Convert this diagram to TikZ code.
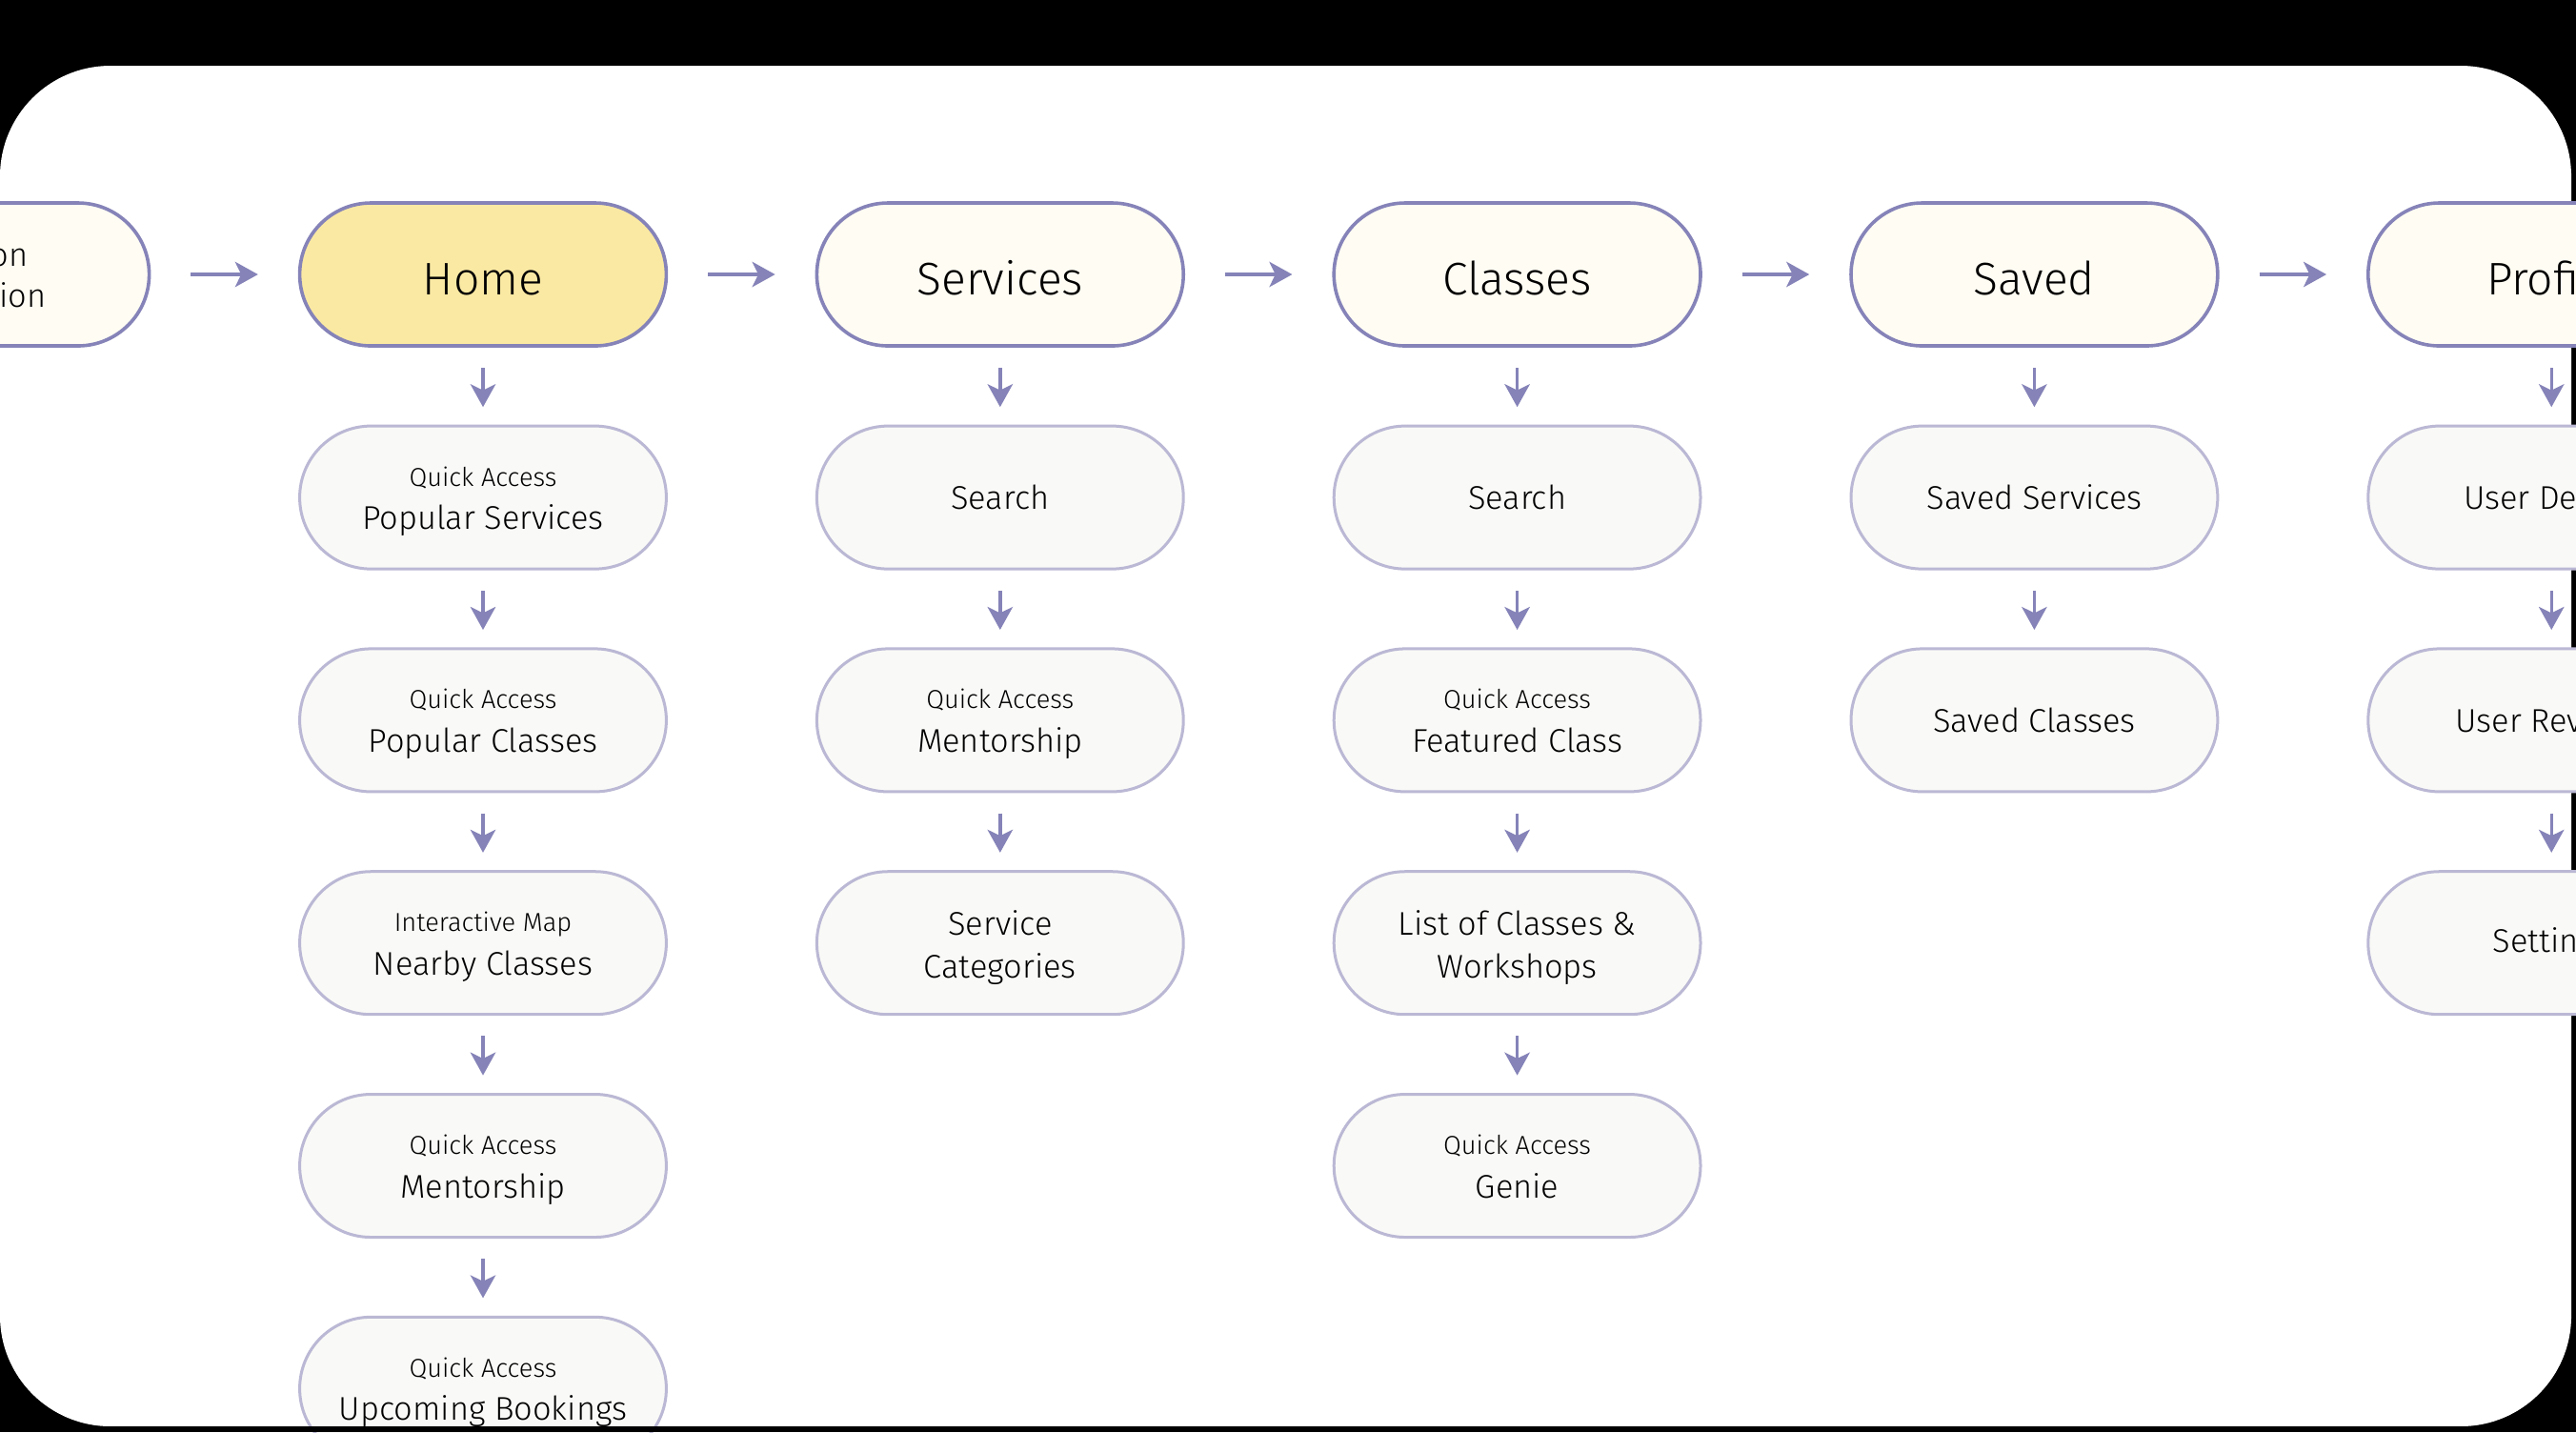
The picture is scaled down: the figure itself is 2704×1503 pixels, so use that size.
\documentclass[tikz,border=0pt]{standalone}
\usepackage{fontspec}
\setmainfont{Fira Sans Light}
\usetikzlibrary{positioning, arrows.meta}

\definecolor{flowline}{HTML}{8583B8}
\definecolor{itemline}{HTML}{BAB8D4}
\definecolor{homefill}{HTML}{FAE9A3}
\definecolor{tabfill}{HTML}{FFFCF3}
\definecolor{itemfill}{HTML}{F9F9F7}

\newcommand{\hint}[1]{{\fontsize{6.8}{8.2}\selectfont #1}}

\begin{document}
\begin{tikzpicture}
        [
            x=0.25pt, y=-0.25pt,
            pill/.style={rectangle, rounded corners=18.7pt, draw=flowline,
                         line width=0.9pt, fill=tabfill, minimum width=96.2pt,
                         minimum height=37.5pt, inner sep=0pt, align=center,
                         font=\fontsize{12}{14}\selectfont},
            page/.style={pill, text height=10.9pt, text depth=0pt},
            item/.style={pill, draw=itemline, line width=0.75pt, fill=itemfill,
                         font=\fontsize{8.6}{11.4}\selectfont},
            hinted/.style={item, text height=18.8pt, text depth=2pt},
            wrapped/.style={item, text height=20.6pt, text depth=2pt},
            flow/.style={->, >={Stealth[length=6pt, width=6.6pt, inset=1.6pt]},
                         draw=flowline, line width=0.85pt}
        ]
        \useasboundingbox (0,0) rectangle (2704,1503);
        \clip (0,0) rectangle (2704,1503);
        % frame
        \fill [black] (0,0) rectangle (2704,1503);
        \fill [white, rounded corners=29pt] (0,69) rectangle (2699,1497);

        % top row
        \node (home) [page, fill=homefill] at (507,288) {Home};
        \node (start) [pill, font=\fontsize{8.6}{10.8}\selectfont,
                       left=38.6pt of home] {Location\\Permission};
        \node (services) [page, right=38.6pt of home] {Services};
        \node (classes) [page, right=38.6pt of services] {Classes};
        \node (saved) [page, right=38.6pt of classes] {Saved};
        \node (profile) [page, right=38.6pt of saved] {Profile};

        % home
        \node (h1) [hinted, below=20.2pt of home] {\hint{Quick Access}\\Popular Services};
        \node (h2) [hinted, below=20.2pt of h1] {\hint{Quick Access}\\Popular Classes};
        \node (h3) [hinted, below=20.2pt of h2] {\hint{Interactive Map}\\Nearby Classes};
        \node (h4) [hinted, below=20.2pt of h3] {\hint{Quick Access}\\Mentorship};
        \node (h5) [hinted, below=20.2pt of h4] {\hint{Quick Access}\\Upcoming Bookings};

        % services
        \node (s1) [item, below=20.2pt of services] {Search};
        \node (s2) [hinted, below=20.2pt of s1] {\hint{Quick Access}\\Mentorship};
        \node (s3) [wrapped, below=20.2pt of s2] {Service\\Categories};

        % classes
        \node (c1) [item, below=20.2pt of classes] {Search};
        \node (c2) [hinted, below=20.2pt of c1] {\hint{Quick Access}\\Featured Class};
        \node (c3) [wrapped, below=20.2pt of c2] {List of Classes \&\\Workshops};
        \node (c4) [hinted, below=20.2pt of c3] {\hint{Quick Access}\\Genie};

        % saved
        \node (v1) [item, below=20.2pt of saved] {Saved Services};
        \node (v2) [item, below=20.2pt of v1] {Saved Classes};

        % profile
        \node (p1) [item, below=20.2pt of profile] {User Details};
        \node (p2) [item, below=20.2pt of p1] {User Reviews};
        \node (p3) [item, below=20.2pt of p2] {Settings};

        \foreach \i/\j in {start/home, home/services, services/classes,
                           classes/saved, saved/profile}
            \draw [flow, shorten <=10.5pt, shorten >=10.5pt] (\i) -- (\j);
        \foreach \i/\j in {home/h1, h1/h2, h2/h3, h3/h4, h4/h5,
                           services/s1, s1/s2, s2/s3,
                           classes/c1, c1/c2, c2/c3, c3/c4,
                           saved/v1, v1/v2,
                           profile/p1, p1/p2, p2/p3}
            \draw [flow, shorten <=5.3pt, shorten >=4.6pt] (\i) -- (\j);

        \fill [black] (0,1497) rectangle (2704,1503);
    \end{tikzpicture}
\end{document}
